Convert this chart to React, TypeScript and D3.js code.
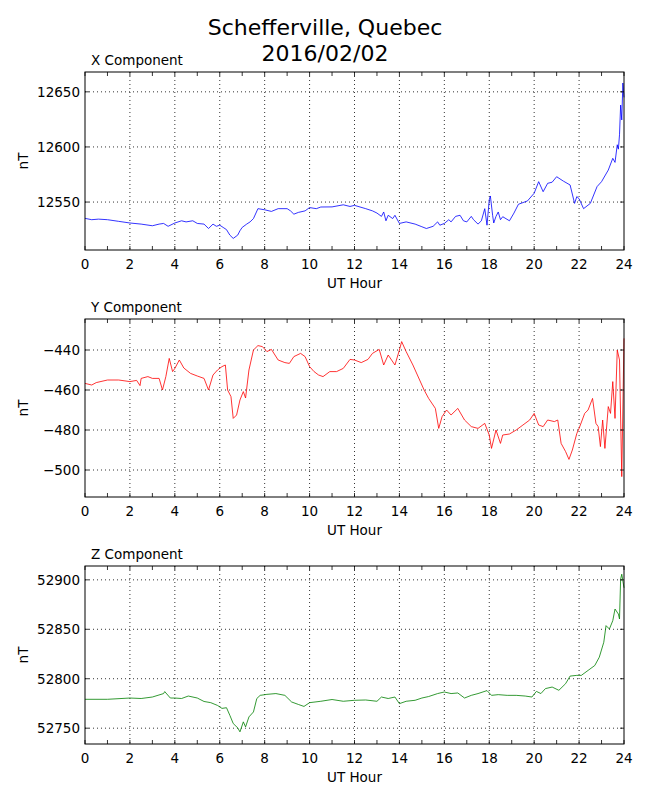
import * as d3 from 'd3';
import { useEffect, useRef } from 'react';

// hour, nT pairs
const xComponent: [number, number][] = [
  [0, 12535.2], [0.3, 12534], [0.6, 12534.5], [1, 12534], [1.5, 12532.5], [2, 12531], [2.5, 12530],
  [3, 12528.5], [3.3, 12530], [3.5, 12530.6], [3.7, 12528], [4, 12531], [4.3, 12533], [4.5, 12532],
  [4.8, 12533], [5, 12530.6], [5.3, 12530], [5.5, 12526], [5.7, 12530], [5.85, 12528], [6, 12529],
  [6.15, 12527], [6.3, 12525], [6.45, 12520], [6.6, 12517], [6.8, 12520], [6.9, 12524], [7, 12527],
  [7.2, 12530], [7.35, 12532], [7.5, 12535], [7.7, 12544], [8, 12543], [8.3, 12541.5], [8.6, 12544],
  [9, 12544], [9.15, 12542], [9.3, 12539], [9.5, 12540.6], [9.8, 12542], [10, 12545], [10.3, 12544],
  [10.5, 12545.5], [11, 12545.6], [11.5, 12547.5], [11.8, 12546], [12, 12547], [12.5, 12544],
  [12.8, 12542], [13, 12540], [13.2, 12537], [13.3, 12541], [13.4, 12533], [13.5, 12538], [13.7, 12535],
  [13.8, 12538], [14, 12530.6], [14.3, 12532], [14.7, 12530], [15, 12527.6], [15.2, 12526], [15.5, 12528],
  [15.7, 12532], [15.8, 12529], [16, 12530.6], [16.2, 12534], [16.3, 12532], [16.5, 12537], [16.7, 12538],
  [16.85, 12533], [17, 12532], [17.2, 12537], [17.3, 12534], [17.5, 12530], [17.65, 12533], [17.8, 12544],
  [17.9, 12529], [18, 12552], [18.05, 12555.5], [18.15, 12538], [18.2, 12531], [18.3, 12537], [18.4, 12541],
  [18.5, 12534], [18.6, 12536.7], [18.9, 12533], [19.1, 12540], [19.3, 12548], [19.7, 12551], [20, 12558],
  [20.2, 12568.5], [20.4, 12559.4], [20.6, 12567], [20.8, 12568], [21, 12573], [21.3, 12569], [21.6, 12565.5],
  [21.8, 12548.8], [21.9, 12555], [22, 12553], [22.2, 12544], [22.5, 12548.8], [22.8, 12564], [23, 12568.5],
  [23.3, 12579], [23.5, 12589.7], [23.6, 12586], [23.7, 12602], [23.75, 12598], [23.8, 12611], [23.85, 12638],
  [23.9, 12624.5], [23.95, 12658], [24, 12645],
];

const yComponent: [number, number][] = [
  [0, -456.7], [0.3, -457.5], [0.5, -456.3], [1, -455], [1.5, -455], [2, -455.8], [2.3, -455.2],
  [2.45, -457.8], [2.5, -454.2], [2.8, -453.3], [3, -454.2], [3.3, -454.2], [3.45, -460], [3.6, -453.3],
  [3.75, -444.2], [3.9, -450.8], [4, -449.2], [4.2, -445], [4.4, -449], [4.7, -451.7], [5, -453],
  [5.3, -454.2], [5.5, -460], [5.7, -452.5], [5.9, -450], [6.1, -448.3], [6.25, -447.5], [6.35, -460],
  [6.5, -463.3], [6.6, -474.2], [6.75, -472.5], [6.9, -465], [7.05, -460.8], [7.15, -464], [7.3, -450],
  [7.5, -440], [7.7, -437.8], [7.9, -438.3], [8.1, -440.8], [8.3, -439.7], [8.6, -445], [8.9, -446.3],
  [9.1, -446.7], [9.3, -443.3], [9.6, -441.7], [9.8, -443.3], [10, -448.3], [10.2, -450.8], [10.4, -452.5],
  [10.6, -453.3], [10.9, -450.8], [11.2, -450.8], [11.5, -449.2], [11.8, -444.7], [12, -445],
  [12.3, -446.3], [12.6, -444.7], [12.8, -441.7], [13.1, -439.7], [13.3, -447.5], [13.5, -442.5],
  [13.8, -447.5], [14, -440], [14.1, -435.8], [14.3, -440.8], [14.6, -447.5], [14.9, -455], [15.1, -460],
  [15.3, -464.2], [15.6, -469.2], [15.75, -479.2], [15.9, -473.3], [16.1, -470], [16.3, -472.5],
  [16.6, -469.2], [16.9, -475], [17.2, -478.3], [17.5, -479.2], [17.8, -476.7], [18, -482.5], [18.1, -489.2],
  [18.3, -480], [18.5, -486.7], [18.6, -482.5], [18.9, -482], [19.2, -480], [19.5, -477.5], [19.8, -475],
  [20, -471.7], [20.2, -477.5], [20.4, -478.3], [20.6, -475], [20.9, -475.8], [21.05, -475], [21.2, -486.7],
  [21.4, -490.8], [21.55, -494.7], [21.7, -490], [21.9, -481.7], [22, -479.2], [22.25, -471.7],
  [22.4, -470], [22.6, -464.2], [22.75, -476.7], [22.85, -478.3], [22.95, -488.3], [23.05, -475],
  [23.15, -489.2], [23.3, -468.3], [23.4, -471.7], [23.5, -455.8], [23.6, -474.2], [23.7, -440],
  [23.8, -445], [23.9, -503.3], [24, -434.2],
];

const zComponent: [number, number][] = [
  [0, 52779.2], [1, 52779.2], [2, 52780.5], [2.5, 52780], [3, 52781.5], [3.5, 52785], [3.55, 52787],
  [3.8, 52780.5], [4, 52780.5], [4.3, 52780], [4.6, 52782.5], [5, 52780.5], [5.3, 52777], [5.6, 52775.8],
  [5.9, 52773], [6.1, 52770], [6.3, 52770.7], [6.45, 52763], [6.6, 52754.7], [6.8, 52750.3], [6.9, 52746.3],
  [7.05, 52756.4], [7.15, 52751.3], [7.3, 52761.4], [7.5, 52766.4], [7.65, 52780], [7.8, 52783.2],
  [8.1, 52784.2], [8.5, 52785], [8.9, 52783.2], [9.2, 52776.5], [9.5, 52774], [9.75, 52772], [10, 52775.8],
  [10.5, 52777.2], [11, 52779], [11.5, 52777.2], [12, 52778.2], [12.5, 52778.5], [13, 52777.2],
  [13.2, 52781.5], [13.5, 52780], [13.8, 52781.5], [14, 52774.8], [14.3, 52777.2], [14.7, 52778.2],
  [15, 52780.5], [15.3, 52782], [15.7, 52785], [16, 52786.6], [16.3, 52785], [16.6, 52785.6],
  [16.9, 52780.5], [17.2, 52783.2], [17.5, 52785], [17.9, 52788], [18.1, 52783.2], [18.4, 52783.9],
  [18.8, 52783.2], [19.2, 52783.2], [19.6, 52782.5], [19.9, 52781.5], [20.1, 52787.2], [20.3, 52785],
  [20.5, 52790], [20.8, 52791.6], [21.1, 52788.3], [21.4, 52795], [21.6, 52802.7], [21.9, 52803.4],
  [22.1, 52803.4], [22.4, 52808.4], [22.7, 52813.4], [22.9, 52821.8], [23.1, 52836.9], [23.2, 52853.7],
  [23.35, 52850.3], [23.5, 52858.7], [23.6, 52870.5], [23.75, 52865.4], [23.8, 52860.4], [23.85, 52900.7],
  [23.9, 52905.7], [24, 52892],
];

const hourTicks = [0, 2, 4, 6, 8, 10, 12, 14, 16, 18, 20, 22, 24];
const hourMinorTicks = d3.range(0, 25);

const panels = [
  { title: 'X Component', data: xComponent, color: '#0000ff', domain: [12506.5, 12668], ticks: [12550, 12600, 12650], top: 72 },
  { title: 'Y Component', data: yComponent, color: '#ff0000', domain: [-513.5, -424.5], ticks: [-500, -480, -460, -440], top: 319 },
  { title: 'Z Component', data: zComponent, color: '#008000', domain: [52734, 52914], ticks: [52750, 52800, 52850, 52900], top: 566 },
];

const FONT = 'DejaVu Sans, sans-serif';

const App = () => {
  const ref = useRef<SVGSVGElement | null>(null);

  useEffect(() => {
    if (!ref.current) return;
    const svg = d3.select(ref.current);
    svg.selectAll('*').remove();

    const left = 85, right = 624, h = 178;

    svg.append('text')
      .attr('x', 325).attr('y', 35)
      .attr('text-anchor', 'middle')
      .style('font-family', FONT).style('font-size', '22px')
      .text('Schefferville, Quebec');
    svg.append('text')
      .attr('x', 325).attr('y', 61)
      .attr('text-anchor', 'middle')
      .style('font-family', FONT).style('font-size', '22px')
      .text('2016/02/02');

    panels.forEach(p => {
      const x = d3.scaleLinear().domain([0, 24]).range([left, right]);
      const y = d3.scaleLinear().domain(p.domain).range([p.top + h, p.top]);
      const g = svg.append('g');

      // grid
      g.selectAll('.vgrid').data(hourTicks.slice(1, -1)).enter().append('line')
        .attr('x1', d => x(d)).attr('x2', d => x(d))
        .attr('y1', p.top).attr('y2', p.top + h)
        .attr('stroke', '#000').attr('stroke-width', 0.8).attr('stroke-dasharray', '1,3');
      g.selectAll('.hgrid').data(p.ticks).enter().append('line')
        .attr('x1', left).attr('x2', right)
        .attr('y1', d => y(d)).attr('y2', d => y(d))
        .attr('stroke', '#000').attr('stroke-width', 0.8).attr('stroke-dasharray', '1,3');

      const line = d3.line<[number, number]>().x(d => x(d[0])).y(d => y(d[1]));
      g.append('path')
        .datum(p.data)
        .attr('d', line)
        .attr('fill', 'none')
        .attr('stroke', p.color)
        .attr('stroke-width', 0.8);

      // inward ticks on all four sides
      g.selectAll('.xt').data(hourMinorTicks).enter().append('path')
        .attr('d', d => `M${x(d)},${p.top + h}v-4M${x(d)},${p.top}v4`)
        .attr('stroke', '#000').attr('stroke-width', 0.8);
      g.selectAll('.yt').data(p.ticks).enter().append('path')
        .attr('d', d => `M${left},${y(d)}h4M${right},${y(d)}h-4`)
        .attr('stroke', '#000').attr('stroke-width', 0.8);

      g.append('rect')
        .attr('x', left).attr('y', p.top)
        .attr('width', right - left).attr('height', h)
        .attr('fill', 'none').attr('stroke', '#000').attr('stroke-width', 1);

      g.selectAll('.xl').data(hourTicks).enter().append('text')
        .attr('x', d => x(d)).attr('y', p.top + h + 19)
        .attr('text-anchor', 'middle')
        .style('font-family', FONT).style('font-size', '13.5px')
        .text(d => d);
      g.selectAll('.yl').data(p.ticks).enter().append('text')
        .attr('x', 80).attr('y', d => y(d)).attr('dy', '0.36em')
        .attr('text-anchor', 'end')
        .style('font-family', FONT).style('font-size', '13.5px')
        .text(d => d < 0 ? `\u2212${-d}` : `${d}`);

      g.append('text')
        .attr('x', (left + right) / 2).attr('y', p.top + h + 38)
        .attr('text-anchor', 'middle')
        .style('font-family', FONT).style('font-size', '13.5px')
        .text('UT Hour');
      g.append('text')
        .attr('transform', `translate(28,${p.top + h / 2}) rotate(-90)`)
        .attr('text-anchor', 'middle')
        .style('font-family', FONT).style('font-size', '13.5px')
        .text('nT');
      g.append('text')
        .attr('x', 91).attr('y', p.top - 7)
        .style('font-family', FONT).style('font-size', '13.5px')
        .text(p.title);
    });
  }, []);

  return (
    <svg ref={ref} width={650} height={800}
      style={{ position: 'absolute', left: 0, top: 0, background: '#fff' }} />
  );
};

export default App;
